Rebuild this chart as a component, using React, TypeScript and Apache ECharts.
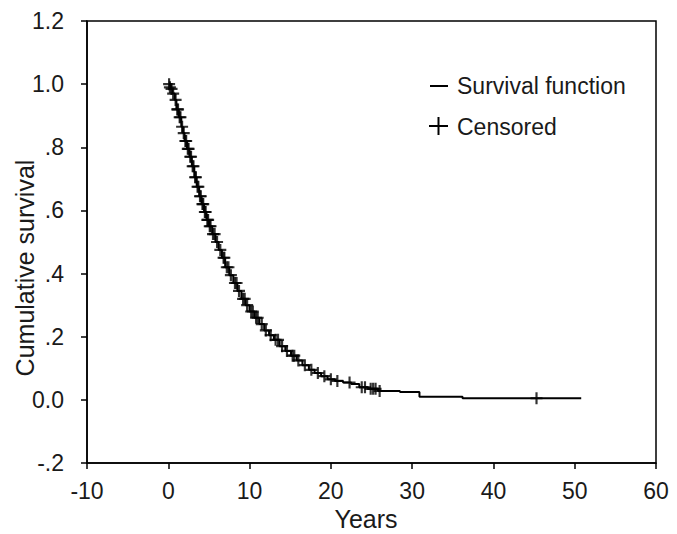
import React, { useEffect, useRef } from "react";
import * as echarts from "echarts";

// Kaplan-Meier step curve: time (years) and survival after that time
const eventTimes = [0, 0.3, 0.5, 0.8, 1.0, 1.3, 1.6, 1.8, 2.0, 2.3, 2.6, 2.9, 3.2, 3.5, 3.8, 4.1, 4.4, 4.7, 5.0, 5.4, 5.8, 6.2, 6.6, 7.0, 7.5, 8.0, 8.5, 9.0, 9.5, 10.0, 10.6, 11.2, 11.8, 12.4, 13.0, 13.7, 14.4, 15.1, 15.8, 16.5, 17.3, 18.0, 18.8, 19.6, 20.5, 21.5, 22.5, 23.5, 24.6, 25.8, 28.5, 30.9, 36.2, 50.8];
const survival = [1.0, 0.985, 0.97, 0.95, 0.92, 0.895, 0.865, 0.845, 0.82, 0.795, 0.77, 0.74, 0.705, 0.675, 0.645, 0.62, 0.595, 0.57, 0.55, 0.525, 0.5, 0.475, 0.45, 0.42, 0.395, 0.37, 0.345, 0.32, 0.3, 0.28, 0.26, 0.24, 0.22, 0.205, 0.19, 0.17, 0.155, 0.14, 0.125, 0.11, 0.095, 0.085, 0.075, 0.065, 0.06, 0.055, 0.05, 0.04, 0.035, 0.028, 0.025, 0.01, 0.005, 0.005];

// Censored observations
const censorTimes = [0.1, 0.2, 0.4, 0.6, 0.9, 1.1, 1.2, 1.4, 1.5, 1.7, 1.9, 2.1, 2.2, 2.4, 2.5, 2.7, 2.8, 3.0, 3.1, 3.3, 3.4, 3.6, 3.7, 3.9, 4.0, 4.2, 4.3, 4.5, 4.6, 4.8, 4.9, 5.1, 5.2, 5.5, 5.7, 6.0, 6.4, 6.8, 6.9, 7.2, 7.4, 7.7, 8.2, 8.4, 8.7, 9.2, 9.4, 9.7, 10.2, 10.4, 10.8, 11.0, 11.5, 12.0, 12.6, 13.2, 13.5, 14.0, 14.6, 15.3, 15.5, 16.0, 16.8, 17.6, 18.4, 19.2, 20.0, 20.8, 22.3, 23.8, 24.2, 24.9, 25.2, 25.5, 26.0, 45.3];
const censorSurvival = [1.0, 0.99, 0.985, 0.97, 0.95, 0.92, 0.92, 0.895, 0.895, 0.865, 0.845, 0.82, 0.82, 0.795, 0.795, 0.77, 0.77, 0.74, 0.74, 0.705, 0.705, 0.675, 0.675, 0.645, 0.645, 0.62, 0.62, 0.595, 0.595, 0.57, 0.57, 0.55, 0.55, 0.525, 0.525, 0.5, 0.475, 0.45, 0.45, 0.42, 0.42, 0.395, 0.37, 0.37, 0.345, 0.32, 0.32, 0.3, 0.28, 0.28, 0.26, 0.26, 0.24, 0.22, 0.205, 0.19, 0.19, 0.17, 0.155, 0.14, 0.14, 0.125, 0.11, 0.095, 0.085, 0.075, 0.065, 0.06, 0.055, 0.04, 0.04, 0.035, 0.035, 0.035, 0.028, 0.005];

const yTickValues = [-0.2, 0, 0.2, 0.4, 0.6, 0.8, 1.0, 1.2];
const yTickLabels = ["-.2", "0.0", ".2", ".4", ".6", ".8", "1.0", "1.2"];

const legendNames = ["Survival function", "Censored"];
const xTitle = "Years";
const yTitle = "Cumulative survival";

const FONT = "Liberation Sans, Arial, sans-serif";
const FS = 23;
const TITLE_FS = 25;
const TXT = "#1a1a1a";
const PLUS = "path://M4.1,0H5.9V4.1H10V5.9H5.9V10H4.1V5.9H0V4.1H4.1Z";

export default function App() {
  const ref = useRef<HTMLDivElement>(null);
  useEffect(() => {
    document.body.style.margin = "0";
    const chart = echarts.init(ref.current!, undefined, { renderer: "svg" });
    const lineData = eventTimes.map((t, i) => [t, survival[i]]);
    const censorData = censorTimes.map((t, i) => [t, censorSurvival[i]]);
    const axisCommon = {
      axisLine: { show: true, onZero: false, lineStyle: { color: "#000", width: 1.5 } },
      axisTick: { show: true, inside: false, length: 6, lineStyle: { color: "#000", width: 1.5 } },
      splitLine: { show: false },
    };
    chart.setOption({
      animation: false,
      backgroundColor: "#fff",
      grid: {
        left: 87,
        right: 21,
        top: 21,
        bottom: 71,
        containLabel: false,
        outerBoundsMode: "none",
        show: true,
        borderColor: "#000",
        borderWidth: 1.5,
      },
      xAxis: {
        ...axisCommon,
        type: "value",
        min: -10,
        max: 60,
        interval: 10,
        axisLabel: { fontFamily: FONT, fontSize: FS, color: TXT, margin: 16 },
      },
      yAxis: {
        ...axisCommon,
        type: "value",
        min: -0.2,
        max: 1.2,
        interval: 0.2,
        axisLabel: {
          fontFamily: FONT,
          fontSize: FS,
          color: TXT,
          margin: 23,
          formatter: (v: number) => {
            const idx = yTickValues.findIndex((t) => Math.abs(t - v) < 1e-6);
            return idx >= 0 ? yTickLabels[idx] : "";
          },
        },
      },
      series: [
        {
          name: legendNames[0],
          type: "line",
          step: "end",
          data: lineData,
          showSymbol: false,
          symbol: "none",
          lineStyle: { color: "#000", width: 2 },
          z: 3,
        },
        {
          name: legendNames[1],
          type: "scatter",
          data: censorData,
          symbol: PLUS,
          symbolSize: 12,
          itemStyle: { color: "#000" },
          z: 4,
        },
      ],
      graphic: [
        {
          type: "text",
          x: 366,
          y: 519,
          style: { text: xTitle, font: `${TITLE_FS}px ${FONT}`, fill: TXT, align: "center", verticalAlign: "middle" },
        },
        {
          type: "text",
          x: 25,
          y: 268,
          rotation: Math.PI / 2,
          style: { text: yTitle, font: `${TITLE_FS}px ${FONT}`, fill: TXT, align: "center", verticalAlign: "middle" },
        },
        {
          type: "line",
          shape: { x1: 430, y1: 86, x2: 448, y2: 86 },
          style: { stroke: "#000", lineWidth: 2 },
        },
        {
          type: "text",
          x: 457,
          y: 86,
          style: { text: legendNames[0], font: `${FS}px ${FONT}`, fill: TXT, verticalAlign: "middle" },
        },
        {
          type: "line",
          shape: { x1: 429, y1: 126, x2: 448, y2: 126 },
          style: { stroke: "#000", lineWidth: 2 },
        },
        {
          type: "line",
          shape: { x1: 438.5, y1: 117, x2: 438.5, y2: 135 },
          style: { stroke: "#000", lineWidth: 2 },
        },
        {
          type: "text",
          x: 457,
          y: 127,
          style: { text: legendNames[1], font: `${FS}px ${FONT}`, fill: TXT, verticalAlign: "middle" },
        },
      ],
    });
    return () => chart.dispose();
  }, []);
  return <div ref={ref} style={{ width: 677, height: 534 }} />;
}
